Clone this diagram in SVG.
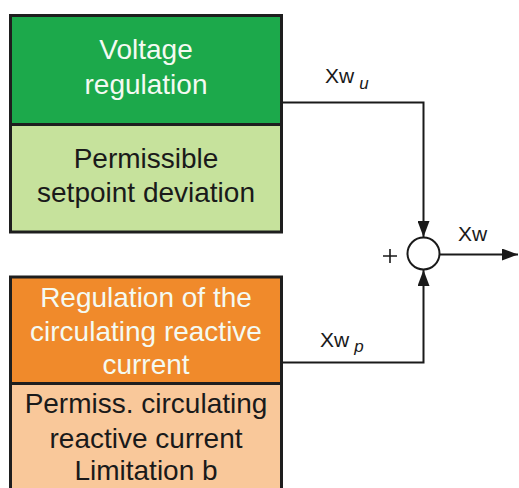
<svg xmlns="http://www.w3.org/2000/svg" width="519" height="488" viewBox="0 0 519 488">
<defs>
<style>
.box{stroke:#1e1e1e;stroke-width:3}
.t{font-family:"Liberation Sans",Arial,sans-serif;font-size:28px;text-anchor:middle}
.w{fill:#f4faf2}
.d{fill:#1a1a1a}
.lbl{font-family:"Liberation Sans",Arial,sans-serif;font-size:21px;fill:#1a1a1a}
.sub{font-style:italic;font-size:17px}
.ln{fill:none;stroke:#1a1a1a;stroke-width:2}
</style>
<marker id="ah" viewBox="0 0 16 12" refX="16" refY="6" markerWidth="16" markerHeight="12" markerUnits="userSpaceOnUse" orient="auto">
<path d="M0,0 L16,6 L0,12 z" fill="#1a1a1a"/>
</marker>
</defs>
<rect width="519" height="488" fill="#ffffff"/>
<g id="voltage-regulation">
<rect class="box" x="10.5" y="15.5" width="271" height="109" fill="#1ca94b"/>
<text class="t w" x="146" y="59">Voltage</text>
<text class="t w" x="146" y="94">regulation</text>
</g>
<g id="setpoint-deviation">
<rect class="box" x="10.5" y="124.5" width="271" height="107.5" fill="#c6e29c"/>
<text class="t d" x="146" y="168">Permissible</text>
<text class="t d" x="146" y="202">setpoint deviation</text>
</g>
<g id="circulating-regulation">
<rect class="box" x="10.5" y="277" width="271" height="106.5" fill="#f08a2b"/>
<text class="t w" x="146" y="307">Regulation of the</text>
<text class="t w" x="146" y="341">circulating reactive</text>
<text class="t w" x="146" y="374">current</text>
</g>
<g id="circulating-limitation">
<rect class="box" x="10.5" y="383.5" width="271" height="110" fill="#f9c89a"/>
<text class="t d" x="146" y="413">Permiss. circulating</text>
<text class="t d" x="146" y="448">reactive current</text>
<text class="t d" x="146" y="480">Limitation b</text>
</g>
<g id="summing-junction">
<circle cx="423.5" cy="253.5" r="16" fill="#ffffff" stroke="#1a1a1a" stroke-width="2"/>
<path d="M383,256 H397 M390,249 V263" fill="none" stroke="#1a1a1a" stroke-width="1.6"/>
</g>
<g id="connectors">
<path class="ln" d="M283,102.5 H423.5 V237" marker-end="url(#ah)"/>
<path class="ln" d="M283,362.5 H423.5 V270" marker-end="url(#ah)"/>
<path class="ln" d="M439.5,254.5 H518" marker-end="url(#ah)"/>
<text class="lbl" x="325" y="83">Xw<tspan class="sub" dx="5" dy="6">u</tspan></text>
<text class="lbl" x="320" y="347">Xw<tspan class="sub" dx="5" dy="5">p</tspan></text>
<text class="lbl" x="458" y="241">Xw</text>
</g>
</svg>
